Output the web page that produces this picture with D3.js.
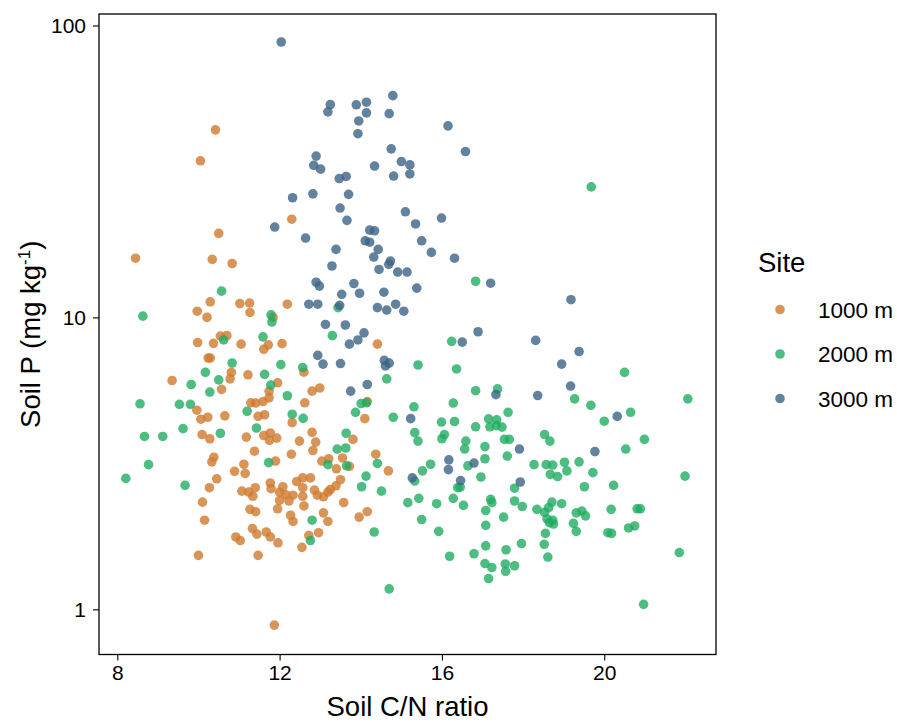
<!DOCTYPE html>
<html>
<head>
<meta charset="utf-8">
<script src="https://cdn.jsdelivr.net/npm/d3@7"></script>
<style>
  body { margin: 0; background: #fff; }
  text { font-family: "Liberation Sans", Arial, sans-serif; fill: #000; }
</style>
</head>
<body>
<div id="chart"></div>
<script>
// Site categories and legend labels
const sites = ["1000 m", "2000 m", "3000 m"];
const siteColors = ["#cf7a2e", "#20ad62", "#3c6384"];

// [C/N ratio, soil P]
const site1000 = [
  [10.42,43.9],[10.05,34.4],[12.30,21.7],
  [10.50,19.4],[8.45,15.95],[10.34,15.8],[10.83,15.3],[10.29,11.3],[11.02,11.15],[11.26,11.2],[12.19,11.1],
  [9.97,10.5],[10.21,10.0],[11.27,10.4],[11.84,10.0],[9.98,8.2],[10.37,8.15],[10.54,8.63],[10.70,8.66],
  [11.05,8.1],[11.72,8.05],[11.61,7.78],[12.06,8.13],[10.24,7.26],[10.29,7.26],[10.81,6.48],[10.78,6.16],
  [9.35,6.08],[11.22,6.36],[12.60,6.49],[10.57,5.67],[11.95,5.97],[11.74,5.59],[11.74,5.30],[9.96,4.81],
  [11.29,5.10],[11.41,5.09],[11.59,5.15],[12.62,5.10],[10.06,4.48],[10.23,4.55],[10.65,4.60],[11.47,4.58],
  [11.63,4.64],[12.31,4.36],[10.09,3.97],[10.28,3.84],[11.18,3.89],[11.61,3.94],[11.77,4.02],[11.93,3.86],
  [11.75,3.79],[12.49,3.77],
  [11.38,3.48],[10.38,3.32],[10.33,3.20],[12.29,3.40],[11.90,3.22],[10.45,2.80],[10.27,2.61],[10.89,2.97],
  [11.12,3.14],[11.15,2.92],[11.07,2.54],[11.24,2.52],[11.40,2.61],[11.34,2.44],[11.77,2.71],[11.79,2.59],
  [12.00,2.52],[12.08,2.63],[12.15,2.47],[12.33,2.46],[12.00,2.36],[12.23,2.35],[12.42,2.74],[12.57,2.82],
  [12.57,2.61],[12.57,2.44],[12.60,2.26],[10.10,2.33],[10.15,2.02],[11.27,2.20],[11.41,2.16],[11.95,2.21],
  [12.27,2.10],[12.33,2.00],[11.33,1.89],[11.44,1.81],[11.67,1.84],[11.77,1.77],[11.96,1.69],[10.92,1.77],
  [11.03,1.72],[10.00,1.53],[11.47,1.53],[12.55,1.63],[11.87,0.883],
  [14.41,8.10],[12.80,5.59],[12.99,5.73],[14.16,5.15],[14.10,4.50],[13.81,3.82],[12.80,4.04],[12.89,3.74],
  [12.82,3.50],[13.04,3.22],[13.21,3.28],[13.55,3.30],[13.40,3.03],[13.72,3.09],[14.37,3.40],[14.68,2.98],
  [12.76,2.82],[13.50,2.78],[13.39,2.65],[12.86,2.56],[12.93,2.46],[13.08,2.43],[13.19,2.52],[13.25,2.57],
  [13.58,2.32],[13.08,2.14],[13.19,2.00],[14.16,2.16],[13.96,2.07],[12.96,1.83],[12.72,1.79]
];

const site2000 = [
  [19.68,28.0],
  [10.57,12.3],[8.63,10.1],[11.79,10.2],[11.81,9.64],[11.59,8.58],[10.62,8.37],[10.83,6.98],[10.17,6.48],
  [10.50,6.11],[11.63,6.38],[12.03,6.89],[12.57,6.73],[9.82,5.89],[10.28,5.55],[11.78,5.86],[12.19,5.39],
  [8.56,5.06],[9.53,5.04],[9.80,5.04],[11.20,4.77],[12.31,4.66],[12.58,4.51],[9.62,4.16],[8.67,3.91],
  [9.12,3.91],[10.54,4.01],[11.43,4.18],
  [11.73,3.18],[8.77,3.13],[8.21,2.81],[9.67,2.66],
  [16.83,13.3],[13.44,10.8],[13.30,8.66],[16.24,8.28],[15.41,6.87],[16.36,6.66],[14.64,6.16],[16.83,5.61],
  [17.37,5.69],[14.01,5.07],[14.14,5.10],[13.87,4.73],[14.80,4.55],[15.31,4.94],[16.28,5.09],[15.99,4.38],
  [16.31,4.40],[16.83,4.22],[17.15,4.49],[17.35,4.46],[17.18,4.22],[17.34,4.26],[17.48,4.21],[17.63,4.73],
  [15.33,4.03],[16.06,3.97],[16.00,3.84],[16.59,3.77],[15.41,3.77],[17.54,3.82],[17.66,3.82],[13.64,4.01],
  [13.42,3.54],[13.63,3.57],[13.19,3.13],[13.65,3.10],[14.41,3.16],[14.13,2.86],[14.02,2.63],[14.51,2.54],
  [12.80,2.02],[12.76,1.72],[14.33,1.84],[14.70,1.175],[15.33,2.75],[15.52,2.98],[15.72,3.14],[15.16,2.32],
  [15.43,2.40],[15.50,2.03],[15.87,2.30],[15.92,1.85],[16.28,2.40],[16.53,2.27],[16.39,2.61],[16.45,2.62],
  [16.64,3.10],[16.56,3.54],[17.06,3.61],[17.06,3.28],[17.61,3.35],[16.96,2.84],[17.20,2.38],[17.23,2.32],
  [17.08,2.18],[17.08,1.94],[17.52,2.07],[16.19,1.52],[16.79,1.55],[17.08,1.65],[17.06,1.435],[17.23,1.39],
  [17.15,1.275],[17.58,1.60],[17.56,1.43],[17.57,1.35],
  [20.53,3.54],[17.79,2.60],[18.27,3.13],[18.57,3.13],[18.73,3.12],[18.67,2.90],[18.85,2.85],[19.02,3.19],
  [19.08,2.98],[19.38,3.20],[19.72,2.94],[19.51,2.63],[20.23,2.66],[21.99,2.86],[17.79,2.35],[17.98,2.25],
  [18.34,2.20],[18.53,2.15],[18.63,2.23],[18.71,2.33],[18.95,2.30],[18.59,2.04],[18.73,2.02],[18.65,1.98],
  [18.75,1.96],[18.55,1.82],[18.52,1.67],[18.61,1.51],[17.96,1.68],[17.79,1.41],[19.31,2.14],[19.45,2.17],
  [19.54,2.09],[19.24,1.97],[19.31,1.85],[20.17,2.20],[20.81,2.21],[20.89,2.21],[20.09,1.83],[20.18,1.82],
  [20.60,1.90],[20.75,1.93],[21.85,1.565],[20.97,1.04],
  [20.50,6.48],[19.27,5.26],[22.06,5.26],[19.67,5.00],[20.00,4.41],[20.65,4.73],[18.53,3.97],[18.66,3.77],
  [20.99,3.82]
];

const site3000 = [
  [12.04,87.8],[12.32,25.7],[11.88,20.4],
  [13.25,53.6],[13.19,50.6],[13.89,53.5],[14.14,54.6],[14.14,50.2],[14.79,57.5],[14.70,49.9],[13.95,47.1],
  [13.93,42.6],[16.15,45.3],[16.58,37.0],[12.90,35.7],[12.84,33.2],[13.01,32.2],[14.34,33.0],[14.75,37.8],
  [15.00,34.2],[15.21,33.3],[15.21,31.0],[14.81,30.5],[13.47,29.9],[13.64,30.4],[12.82,26.5],[13.70,26.4],
  [13.49,23.7],[13.66,21.5],[15.10,23.0],[15.35,20.9],[15.99,21.9],
  [12.64,18.7],
  [14.22,19.9],[14.34,19.8],[14.11,18.3],[14.22,18.1],[15.50,18.3],[13.39,17.1],[14.43,17.1],[15.74,16.7],
  [16.31,15.95],[14.32,16.1],[14.73,15.6],[14.69,15.2],[13.29,15.0],[14.45,14.6],[14.91,14.3],[15.14,14.3],
  [12.90,13.2],[12.98,12.8],[13.83,13.06],[13.97,12.1],[14.57,12.2],[15.38,12.6],[17.20,13.1],[13.53,12.0],
  [12.72,11.1],[12.94,11.1],[13.48,11.0],[14.41,10.8],[14.64,10.6],[14.86,11.1],[15.06,10.5],[13.13,9.46],
  [13.62,9.42],[14.08,8.85],[13.93,8.37],[13.72,8.10],[16.89,8.93],[16.50,8.23],[12.94,7.41],[13.07,6.92],
  [13.50,6.95],[14.58,7.13],[14.70,6.97],[14.61,6.82],[14.16,5.89],[13.75,5.59],[17.33,5.44],[15.23,4.50],
  [15.27,2.82],[16.17,3.25],[16.16,3.01],[16.46,2.76],[16.79,3.17],
  [17.91,3.54],[19.77,3.47],[17.93,2.73],
  [19.18,11.5],[18.31,8.34],[19.38,7.64],[18.95,6.92],[19.17,5.82],[18.36,5.40],[20.32,4.58]
];

const xTicks = [8, 12, 16, 20];
const yTicks = [1, 10, 100];

const width = 897, height = 724;
const panel = { left: 99, right: 716, top: 14, bottom: 654.5 };
const font = '"Liberation Sans", Arial, sans-serif';

const svg = d3.select('#chart').append('svg')
  .attr('width', width)
  .attr('height', height);

const xScale = d3.scaleLinear()
  .domain([7.549, 22.754])
  .range([panel.left, panel.right]);

const yScale = d3.scaleLog()
  .domain([0.7002, 109.5])
  .range([panel.bottom, panel.top]);

// points, one group per site
const series = [site1000, site2000, site3000];
const pts = svg.append('g');
series.forEach((data, i) => {
  pts.append('g')
    .selectAll('circle')
    .data(data)
    .join('circle')
    .attr('cx', d => xScale(d[0]))
    .attr('cy', d => yScale(d[1]))
    .attr('r', 4.8)
    .attr('fill', siteColors[i])
    .attr('fill-opacity', 0.8);
});

// panel border
svg.append('rect')
  .attr('x', panel.left)
  .attr('y', panel.top)
  .attr('width', panel.right - panel.left)
  .attr('height', panel.bottom - panel.top)
  .attr('fill', 'none')
  .attr('stroke', '#000')
  .attr('stroke-width', 1.3);

// axes
const xAxis = svg.append('g')
  .attr('transform', `translate(0, ${panel.bottom})`)
  .call(d3.axisBottom(xScale).tickValues(xTicks).tickSize(6).tickPadding(5).tickFormat(d3.format('d')));
xAxis.select('.domain').remove();
xAxis.selectAll('line').attr('stroke', '#000').attr('stroke-width', 1.1);
xAxis.selectAll('text').attr('font-size', 21).attr('fill', '#000').style('font-family', font);

const yAxis = svg.append('g')
  .attr('transform', `translate(${panel.left}, 0)`)
  .call(d3.axisLeft(yScale).tickValues(yTicks).tickSize(6).tickPadding(7).tickFormat(d3.format('d')));
yAxis.select('.domain').remove();
yAxis.selectAll('line').attr('stroke', '#000').attr('stroke-width', 1.1);
yAxis.selectAll('text').attr('font-size', 21).attr('fill', '#000').style('font-family', font);

// axis titles
svg.append('text')
  .attr('x', (panel.left + panel.right) / 2)
  .attr('y', 716)
  .attr('text-anchor', 'middle')
  .attr('font-size', 27.5)
  .text('Soil C/N ratio');

const yTitle = svg.append('text')
  .attr('transform', `translate(40, ${(panel.top + panel.bottom) / 2}) rotate(-90)`)
  .attr('text-anchor', 'middle')
  .attr('font-size', 27.5);
yTitle.append('tspan').text('Soil P (mg kg');
yTitle.append('tspan').attr('font-size', 17).attr('dy', -10).text('-1');
yTitle.append('tspan').attr('dy', 10).text(')');

// legend
const legend = svg.append('g');
legend.append('text')
  .attr('x', 758)
  .attr('y', 272)
  .attr('font-size', 27.5)
  .text('Site');

const item = legend.selectAll('g.item')
  .data(sites)
  .join('g')
  .attr('class', 'item')
  .attr('transform', (d, i) => `translate(0, ${309.5 + i * 44.5})`);
item.append('circle')
  .attr('cx', 780)
  .attr('cy', 0)
  .attr('r', 4.8)
  .attr('fill', (d, i) => siteColors[i])
  .attr('fill-opacity', 0.8);
item.append('text')
  .attr('x', 818)
  .attr('y', 8)
  .attr('font-size', 22.5)
  .text(d => d);
</script>
</body>
</html>
